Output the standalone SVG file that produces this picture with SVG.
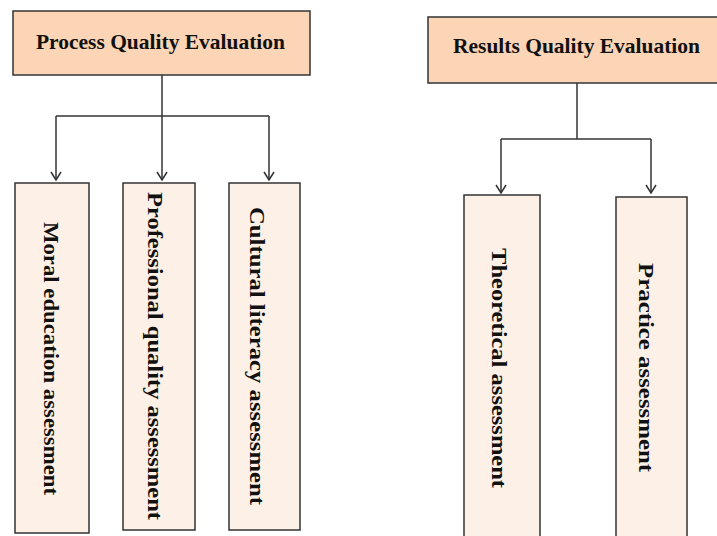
<svg xmlns="http://www.w3.org/2000/svg" width="717" height="536" viewBox="0 0 717 536">
<style>
.top{fill:#FBD5B6;stroke:#333;stroke-width:1.5}
.child{fill:#FDF0E6;stroke:#333;stroke-width:1.5}
.lbl{font-family:"Liberation Serif","Times New Roman",serif;font-weight:bold;font-size:21px;fill:#111}
.conn{fill:none;stroke:#333;stroke-width:1.5}
</style>
<defs>
<marker id="arr" viewBox="0 0 10 12" refX="9" refY="6" markerWidth="10" markerHeight="12" markerUnits="userSpaceOnUse" orient="auto">
<path d="M1,1 L9,6 L1,11" fill="none" stroke="#333" stroke-width="1.5"/>
</marker>
</defs>
<rect width="717" height="536" fill="#fff"/>
<g id="connectors">
<path class="conn" d="M162,75 V116"/>
<path class="conn" d="M56,116 H269"/>
<path class="conn" d="M56,116 V180" marker-end="url(#arr)"/>
<path class="conn" d="M162,116 V180" marker-end="url(#arr)"/>
<path class="conn" d="M269,116 V180" marker-end="url(#arr)"/>
<path class="conn" d="M577,83 V139"/>
<path class="conn" d="M501,139 H651"/>
<path class="conn" d="M501,139 V193" marker-end="url(#arr)"/>
<path class="conn" d="M651,139 V193" marker-end="url(#arr)"/>
</g>
<g id="process">
<rect class="top" x="13" y="11" width="297" height="64"/>
<text class="lbl" x="36" y="49" textLength="249" lengthAdjust="spacingAndGlyphs">Process Quality Evaluation</text>
</g>
<g id="results">
<rect class="top" x="428" y="17" width="295" height="66"/>
<text class="lbl" x="453" y="53" textLength="247" lengthAdjust="spacingAndGlyphs">Results Quality Evaluation</text>
</g>
<g id="moral">
<rect class="child" x="15" y="183" width="74" height="350"/>
<text class="lbl" transform="translate(44,358.5) rotate(90)" text-anchor="middle" textLength="273" lengthAdjust="spacingAndGlyphs">Moral education assessment</text>
</g>
<g id="professional">
<rect class="child" x="123" y="183" width="72" height="347"/>
<text class="lbl" transform="translate(148,356) rotate(90)" text-anchor="middle" textLength="328" lengthAdjust="spacingAndGlyphs">Professional quality assessment</text>
</g>
<g id="cultural">
<rect class="child" x="229" y="183" width="71" height="347"/>
<text class="lbl" transform="translate(250,356) rotate(90)" text-anchor="middle" textLength="298" lengthAdjust="spacingAndGlyphs">Cultural  literacy assessment</text>
</g>
<g id="theoretical">
<rect class="child" x="464" y="195" width="76" height="350"/>
<text class="lbl" transform="translate(492,368) rotate(90)" text-anchor="middle" textLength="240" lengthAdjust="spacingAndGlyphs">Theoretical assessment</text>
</g>
<g id="practice">
<rect class="child" x="616" y="197" width="71" height="350"/>
<text class="lbl" transform="translate(639,367.5) rotate(90)" text-anchor="middle" textLength="209" lengthAdjust="spacingAndGlyphs">Practice assessment</text>
</g>
</svg>
